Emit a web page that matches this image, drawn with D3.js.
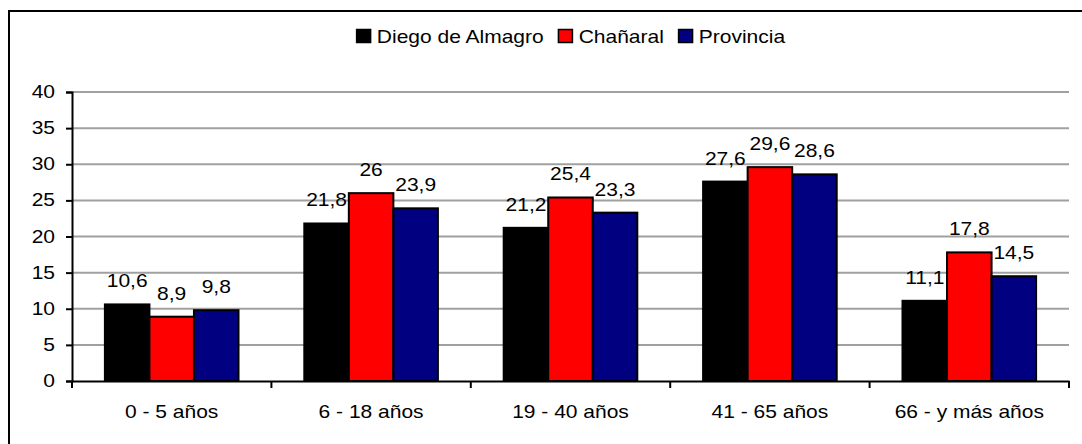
<!DOCTYPE html>
<html>
<head>
<meta charset="utf-8">
<script src="https://cdn.jsdelivr.net/npm/d3@7"></script>
<style>
  body { margin: 0; background: #fff; }
  svg text { font-family: "Liberation Sans", Arial, sans-serif; font-size: 17.5px; fill: #000; }
</style>
</head>
<body>
<svg id="chart" width="1082" height="444"></svg>
<script>
let categories = ["0 - 5 años", "6 - 18 años", "19 - 40 años", "41 - 65 años", "66 - y más años"];
let seriesNames = ["Diego de Almagro", "Chañaral", "Provincia"];
let seriesColors = ["#000000", "#ff0000", "#000080"];
let diegoValues = [10.6, 21.8, 21.2, 27.6, 11.1];
let chanaralValues = [8.9, 26, 25.4, 29.6, 17.8];
let provinciaValues = [9.8, 23.9, 23.3, 28.6, 14.5];
let yTicks = [0, 5, 10, 15, 20, 25, 30, 35, 40];

let allValues = [diegoValues, chanaralValues, provinciaValues];
let stretch = 1.2; // text in the picture is stretched wide

let svg = d3.select("#chart");

// outer frame
svg.append("rect")
    .attr("x", 9).attr("y", 11)
    .attr("width", 1100).attr("height", 460)
    .attr("fill", "none")
    .attr("stroke", "#000")
    .attr("stroke-width", 2);

let plotLeft = 72, plotRight = 1069, plotTop = 92, plotBottom = 381;

let x = d3.scaleBand().domain(categories).range([plotLeft, plotRight]);
let xInner = d3.scaleBand().domain(seriesNames).range([0, x.bandwidth() * 0.67]);
let y = d3.scaleLinear().domain([0, 40]).range([plotBottom, plotTop]);

function stretchText(sel) {
    sel.attr("transform", function() {
        let tx = +this.getAttribute("x") || 0;
        return "translate(" + tx + ",0) scale(" + stretch + ",1) translate(" + (-tx) + ",0)";
    });
}

// gridlines
svg.append("g")
    .selectAll("line")
    .data(yTicks.filter(d => d > 0))
    .enter().append("line")
    .attr("x1", plotLeft).attr("x2", plotRight)
    .attr("y1", d => y(d)).attr("y2", d => y(d))
    .attr("stroke", "#a0a0a0")
    .attr("stroke-width", 2);

// bars
let groups = svg.selectAll(".grp")
    .data(categories)
    .enter().append("g")
    .attr("class", "grp")
    .attr("transform", d => "translate(" + (x(d) + x.bandwidth() * 0.165) + ",0)");

seriesNames.forEach((name, si) => {
    groups.append("rect")
        .attr("x", xInner(name))
        .attr("width", xInner.bandwidth())
        .attr("y", (d, i) => y(allValues[si][i]))
        .attr("height", (d, i) => plotBottom - y(allValues[si][i]))
        .attr("fill", seriesColors[si])
        .attr("stroke", "#000")
        .attr("stroke-width", 2);
});

seriesNames.forEach((name, si) => {
    groups.append("text")
        .attr("x", xInner(name) + xInner.bandwidth() / 2)
        .attr("y", (d, i) => y(allValues[si][i]) - 17)
        .attr("text-anchor", "middle")
        .text((d, i) => String(allValues[si][i]).replace(".", ","))
        .call(stretchText);
});

// y axis
let yAxis = svg.append("g")
    .attr("transform", "translate(" + plotLeft + ",0)")
    .call(d3.axisLeft(y).tickValues(yTicks).tickSize(6).tickPadding(11));
yAxis.selectAll("text").call(stretchText);

// x axis
let xAxis = svg.append("g")
    .attr("transform", "translate(0," + plotBottom + ")")
    .call(d3.axisBottom(x).tickSize(0).tickPadding(25));
xAxis.selectAll("text").call(stretchText);
xAxis.selectAll(".tick line").remove();
xAxis.selectAll(".sep")
    .data(d3.range(categories.length + 1))
    .enter().append("line")
    .attr("x1", d => plotLeft + d * x.step()).attr("x2", d => plotLeft + d * x.step())
    .attr("y1", 0).attr("y2", 7)
    .attr("stroke", "#000").attr("stroke-width", 2);

svg.selectAll(".domain").attr("stroke", "#000").attr("stroke-width", 2);
svg.selectAll(".tick line").attr("stroke", "#000").attr("stroke-width", 2);
svg.selectAll(".tick text").style("font-size", "17.5px").style("font-family", "'Liberation Sans', Arial, sans-serif");

// legend
let legend = svg.append("g");
let cursor = 0;
seriesNames.forEach((name, i) => {
    let g = legend.append("g");
    g.append("rect")
        .attr("x", cursor + 0.75).attr("y", -7)
        .attr("width", 14).attr("height", 13)
        .attr("fill", seriesColors[i])
        .attr("stroke", "#000").attr("stroke-width", 1.5);
    let t = g.append("text")
        .attr("x", cursor + 21).attr("y", 6.5)
        .text(name)
        .call(stretchText);
    cursor += 21 + t.node().getComputedTextLength() * stretch + 14;
});
let legendW = cursor - 14;
legend.attr("transform", "translate(" + ((plotLeft + plotRight) / 2 - legendW / 2) + ",36.5)");
</script>
</body>
</html>
